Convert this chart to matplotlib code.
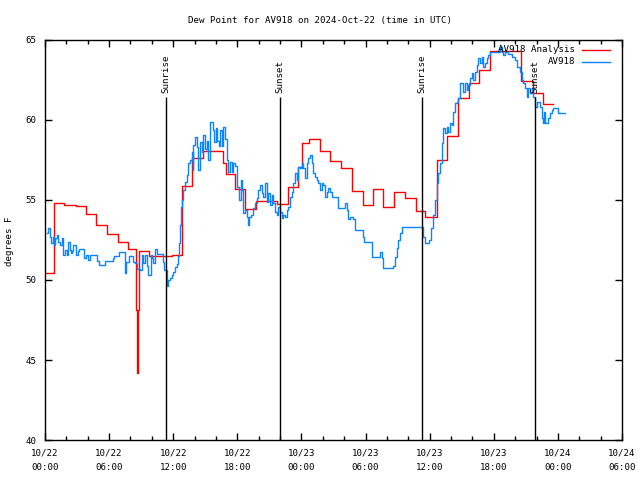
import pandas as pd
import matplotlib
matplotlib.use('Agg')
import matplotlib.pyplot as plt
import matplotlib.dates as mdates

start = pd.Timestamp('2024-10-22 00:00')

# hours after 2024-10-22 00:00 UTC, value in degrees F (step changes)
analysis_hours = [0.0, 0.84, 1.81, 2.87, 3.81, 4.74, 5.80, 6.80, 7.74, 8.54, 8.61, 8.70,
                  8.83, 9.76, 11.86, 12.79, 13.73, 14.79, 16.69, 16.94, 17.81, 18.75, 19.75,
                  21.68, 22.71, 23.65, 24.02, 24.71, 25.74, 26.70, 27.70, 28.73, 29.73, 30.67,
                  31.66, 32.66, 33.69, 34.72, 35.56, 36.66, 37.65, 38.62, 39.68, 40.65, 41.65,
                  44.55, 45.70, 46.63, 47.57]
analysis_vals = [50.45, 54.8, 54.7, 54.65, 54.1, 53.45, 52.9, 52.4, 51.95, 48.1, 44.2, 48.1,
                 51.8, 51.5, 51.55, 55.86, 57.65, 58.04, 57.3, 56.6, 55.67, 54.44, 54.94,
                 54.75, 55.83, 57.08, 58.54, 58.79, 58.06, 57.44, 57.02, 55.56, 54.67, 55.67,
                 54.54, 55.48, 55.1, 54.29, 53.92, 57.5, 59.02, 61.35, 62.33, 63.1, 64.31,
                 62.44, 61.7, 61.0, 61.0]

station_hours = [0.16, 0.30, 0.47, 0.59, 0.72, 0.84, 0.97, 1.09, 1.25, 1.40, 1.55, 1.72, 1.87,
                 2.03, 2.18, 2.30, 2.45, 2.55, 2.65, 2.87, 3.05, 3.21, 3.68, 3.85, 4.00, 4.21,
                 4.90, 5.09, 5.62, 6.33, 6.45, 6.89, 7.49, 7.62, 7.89, 8.20, 8.43, 8.58, 8.89,
                 9.05, 9.20, 9.36, 9.58, 9.67, 9.89, 9.98, 10.14, 10.29, 10.45, 11.01, 11.15,
                 11.39, 11.54, 11.70, 11.86, 12.01, 12.17, 12.33, 12.48, 12.55, 12.63, 12.72,
                 12.82, 12.95, 13.10, 13.26, 13.42, 13.57, 13.73, 13.83, 13.88, 14.04, 14.20,
                 14.35, 14.51, 14.66, 14.82, 14.98, 15.13, 15.29, 15.44, 15.69, 15.82, 16.00,
                 16.13, 16.26, 16.38, 16.54, 16.69, 16.85, 17.00, 17.16, 17.31, 17.47, 17.62,
                 17.78, 18.00, 18.19, 18.31, 18.44, 18.56, 18.72, 18.88, 19.03, 19.12, 19.25,
                 19.44, 19.66, 19.81, 19.97, 20.12, 20.28, 20.43, 20.59, 20.75, 20.90, 21.06,
                 21.21, 21.37, 21.53, 21.68, 21.84, 21.99, 22.15, 22.30, 22.46, 22.62, 22.77,
                 22.93, 23.08, 23.24, 23.39, 23.55, 23.71, 23.87, 24.02, 24.18, 24.33, 24.49,
                 24.64, 24.80, 24.96, 25.11, 25.27, 25.43, 25.58, 25.74, 25.90, 26.05, 26.21,
                 26.36, 26.52, 26.67, 26.83, 27.39, 28.08, 28.23, 28.39, 28.55, 28.86, 29.01,
                 29.73, 29.86, 30.57, 31.35, 31.50, 31.66, 32.60, 32.75, 32.91, 33.07, 33.22,
                 33.38, 35.41, 35.56, 35.97, 36.13, 36.28, 36.50, 36.66, 36.81, 36.97, 37.12,
                 37.28, 37.44, 37.60, 37.75, 37.90, 38.06, 38.21, 38.37, 38.53, 38.68, 38.84,
                 39.15, 39.31, 39.47, 39.62, 39.78, 39.93, 40.08, 40.24, 40.40, 40.55, 40.71,
                 40.86, 41.02, 41.18, 41.34, 41.49, 41.65, 42.58, 42.73, 42.89, 43.05, 43.36,
                 43.67, 43.99, 44.20, 44.45, 44.61, 44.76, 44.92, 45.08, 45.23, 45.39, 45.55,
                 45.70, 45.86, 46.02, 46.33, 46.48, 46.64, 46.72, 46.80, 47.10, 47.26, 47.41,
                 47.57, 48.04, 48.67]
station_vals = [52.92, 53.23, 52.71, 52.29, 52.71, 52.19, 52.60, 52.80, 52.40, 52.19, 52.60, 51.56, 51.87,
                51.56, 52.40, 51.90, 51.70, 51.80, 52.19, 51.56, 51.80, 51.94, 51.35, 51.56, 51.25, 51.56,
                51.20, 50.94, 51.19, 51.35, 51.50, 51.77, 50.46, 51.14, 51.50, 51.14, 51.04, 50.67, 50.60,
                51.56, 51.04, 51.56, 50.85, 50.31, 51.56, 51.35, 51.04, 51.92, 51.63, 51.14, 50.63,
                49.65, 50.00, 50.10, 50.30, 50.50, 50.80, 51.00, 51.50, 52.30, 53.44, 54.58,
                55.00, 55.63, 56.15, 56.56, 57.30, 57.50, 58.02, 56.90, 58.44, 58.96, 58.30,
                56.88, 58.60, 58.00, 59.06, 58.20, 58.70, 57.50, 59.86, 59.40, 58.60, 59.50,
                58.70, 58.40, 59.40, 58.40, 59.58, 58.80, 57.50, 56.77, 57.40, 56.77, 57.30,
                57.10, 55.83, 55.00, 56.25, 55.63, 54.17, 54.38, 53.96, 53.44, 53.96, 54.06,
                54.48, 54.79, 55.10, 55.63, 55.94, 55.42, 55.21, 56.04, 54.90, 55.42, 54.69,
                55.31, 54.79, 54.27, 54.06, 54.58, 54.27, 53.86, 54.06, 53.96, 54.38, 54.58,
                55.21, 55.52, 56.04, 56.67, 56.25, 57.08, 57.00, 57.29, 57.00, 56.35, 57.29,
                57.60, 57.81, 57.29, 56.67, 56.46, 56.25, 56.04, 55.63, 56.04, 55.94, 55.21,
                55.52, 55.73, 55.52, 55.21, 54.48, 54.79, 54.38, 53.79, 53.96, 53.79, 53.13,
                52.71, 52.40, 51.42, 51.73, 51.35, 50.73, 50.88, 51.46, 51.98, 52.50, 52.92,
                53.29, 52.71, 52.33, 52.50, 53.23, 54.06, 55.00, 56.04, 56.67, 57.29, 58.54,
                59.48, 59.17, 59.58, 59.27, 59.79, 59.69, 60.52, 61.04, 61.15, 61.35, 62.33,
                61.77, 62.29, 61.88, 62.19, 62.60, 62.92, 62.50, 63.02, 63.44, 63.85, 63.54,
                63.96, 63.33, 63.54, 63.85, 64.06, 64.27, 64.58, 64.27, 64.06, 64.27, 64.10,
                63.96, 63.75, 63.33, 63.02, 62.50, 62.30, 61.98, 61.46, 61.98, 61.67, 61.98,
                61.46, 60.83, 61.15, 60.83, 60.10, 59.83, 60.50, 59.83, 60.10, 60.42, 60.60,
                60.77, 60.46, 60.46]

sun_hours = [11.35, 22.02, 35.31, 45.89]
sun_labels = ['Sunrise', 'Sunset', 'Sunrise', 'Sunset']


def to_time(hours):
    return start + pd.to_timedelta(hours, unit='h')


plt.rcParams['font.family'] = 'DejaVu Sans Mono'
plt.rcParams['font.size'] = 6.6

fig = plt.figure(figsize=(6.4, 4.8), dpi=100)
ax = fig.add_axes([45 / 640, 40 / 480, 577 / 640, 400 / 480])

ax.step(to_time(analysis_hours), analysis_vals, where='post', color='#ff0000', lw=1.0)
ax.step(to_time(station_hours), station_vals, where='post', color='#0a84ff', lw=1.0)

for h, lab in zip(sun_hours, sun_labels):
    t = to_time([h])[0]
    ax.vlines(t, 40, 61.45, color='black', lw=1.0)
    ax.text(t, 61.7, lab, rotation=90, ha='center', va='bottom')

ax.set_xlim(start, start + pd.Timedelta(hours=54))
ax.set_ylim(40, 65)
ax.set_yticks([40, 45, 50, 55, 60, 65])
ax.xaxis.set_major_locator(mdates.HourLocator(byhour=[0, 6, 12, 18]))
ax.xaxis.set_major_formatter(mdates.DateFormatter('%m/%d\n%H:%M'))
ax.xaxis.set_minor_locator(mdates.HourLocator(byhour=range(0, 24, 2)))
ax.tick_params(which='major', direction='in', top=True, right=True, length=5, width=1, pad=6)
ax.tick_params(which='minor', direction='in', top=True, right=True, length=3, width=1)
for lbl in ax.get_xticklabels():
    lbl.set_linespacing(1.8)
for sp in ax.spines.values():
    sp.set_linewidth(1)

# legend drawn like gnuplot's key
ax.text(0.919, 0.975, 'AV918 Analysis', transform=ax.transAxes, ha='right', va='center')
ax.plot([0.931, 0.979], [0.975, 0.975], transform=ax.transAxes, color='#ff0000', lw=1.0)
ax.text(0.919, 0.945, 'AV918', transform=ax.transAxes, ha='right', va='center')
ax.plot([0.931, 0.979], [0.945, 0.945], transform=ax.transAxes, color='#0a84ff', lw=1.0)

fig.text(0.5, 0.958, 'Dew Point for AV918 on 2024-Oct-22 (time in UTC)', ha='center', va='center')
fig.text(10 / 640, 0.498, 'degrees F', rotation=90, ha='center', va='center')

fig.savefig('out.png', dpi=100)
